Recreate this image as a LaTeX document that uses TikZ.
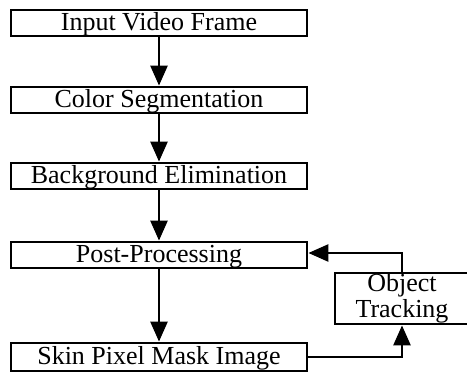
\documentclass[tikz,border=0pt]{standalone}
\usepackage{fontspec}
\setmainfont{Liberation Serif}
\usepackage{tikz}
\usetikzlibrary{arrows.meta,positioning}

\begin{document}
\begin{tikzpicture}[x=1pt, y=1pt,
		every node/.style={rectangle,draw,line width=2.8pt,inner sep=0pt,text height=19pt,text depth=3pt},
		stage/.style={minimum width=296pt,minimum height=26pt},
		flow/.style={line width=2.6pt,-{Triangle[length=20pt,width=17pt]}},
		font=\fontsize{26}{26}\selectfont]
			\useasboundingbox (0,0) rectangle (467,374);
			
			% Pipeline stages
			\node[stage] (input) at (159,351) {Input Video Frame};
			\node[stage] (color) at (159,274) {Color Segmentation};
			\node[stage] (bg) at (159,198) {Background Elimination};
			\node[stage] (post) at (159,119) {Post-Processing};
			\node[stage,minimum height=28pt] (skin) at (159,17) {Skin Pixel Mask Image};
			
			% Tracking block on the side
			\node[minimum width=134pt,minimum height=51pt,align=center,text height=,text depth=] (track) at (402,75.5) {Object\\Tracking};
			
			% Main flow (top to bottom)
			\draw[flow] (input) -- (color);
			\draw[flow] (color) -- (bg);
			\draw[flow] (bg) -- (post);
			\draw[flow] (post) -- (skin);
			
			% Feedback loop through tracking
			\draw[flow] (skin.east) -| (track.south);
			\draw[flow] (track.north) |- ([yshift=2pt]post.east);
			
		\end{tikzpicture}
\end{document}
